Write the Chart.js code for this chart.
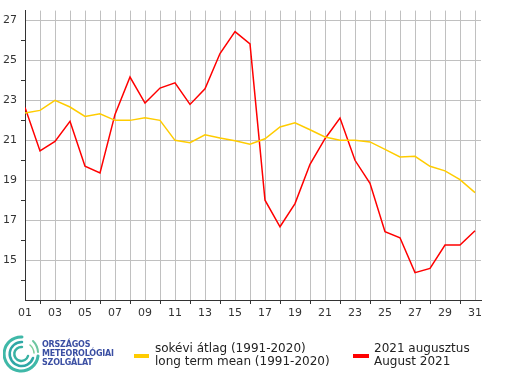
<!DOCTYPE html>
<html>
<head>
<meta charset="utf-8">
<script src="https://cdn.jsdelivr.net/npm/chart.js@4/dist/chart.umd.min.js"></script>
<style>
  html, body { margin: 0; padding: 0; background: #fff; }
  #wrap { position: relative; width: 505px; height: 375px; overflow: hidden; }
  #chart { position: absolute; left: 0; top: 0; }
  .swatch { position: absolute; height: 4px; }
  .ltext { position: absolute; font: 12px "DejaVu Sans", Verdana, sans-serif; line-height: 13px; color: #222; white-space: nowrap; }
  #logo { position: absolute; left: 3px; top: 334px; }
  #logotext { position: absolute; left: 42px; top: 340px; font: bold 8px "DejaVu Sans", sans-serif; line-height: 9px; color: #3b4fa3; letter-spacing: -0.2px; }
</style>
</head>
<body>
<div id="wrap">
  <canvas id="chart" width="505" height="375"></canvas>

  <svg id="logo" width="38" height="40" viewBox="0 0 38 40">
    <g fill="none" stroke-linecap="round">
      <path d="M19 3 A17 17 0 1 0 35 22" stroke="#3fb8a8" stroke-width="3"/>
      <path d="M30 7 A17 17 0 0 1 35 18" stroke="#6cc6a0" stroke-width="2"/>
      <path d="M19 8 A12 12 0 1 0 30 24" stroke="#2fa7a6" stroke-width="2.5"/>
      <path d="M27 11 A12 12 0 0 1 31 19" stroke="#7ccf9b" stroke-width="1.5"/>
      <path d="M19 13 A7 7 0 1 0 25 22" stroke="#38b2a3" stroke-width="2.5"/>
    </g>
  </svg>
  <div id="logotext">ORSZÁGOS<br>METEOROLÓGIAI<br>SZOLGÁLAT</div>

  <div class="swatch" style="left:134px; top:354px; width:15px; background:#ffcc00;"></div>
  <div class="ltext" style="left:155px; top:342px;">sokévi átlag (1991-2020)<br>long term mean (1991-2020)</div>
  <div class="swatch" style="left:353px; top:354px; width:16px; background:#ff0000;"></div>
  <div class="ltext" style="left:374px; top:342px;">2021 augusztus<br>August 2021</div>
</div>

<script>
// days of August
var days = [1, 2, 3, 4, 5, 6, 7, 8, 9, 10, 11, 12, 13, 14, 15, 16,
            17, 18, 19, 20, 21, 22, 23, 24, 25, 26, 27, 28, 29, 30, 31];

// daily mean temperature, August 2021 (°C)
var aug2021 = [22.65, 20.47, 20.95, 21.95, 19.7, 19.37, 22.3, 24.17, 22.87, 23.62,
               23.88, 22.8, 23.58, 25.35, 26.45, 25.83, 18.0, 16.67, 17.83, 19.8,
               21.08, 22.12, 20.0, 18.85, 16.42, 16.12, 14.37, 14.58, 15.75, 15.75, 16.47];

// long term mean 1991-2020 (°C)
var longTermMean = [22.37, 22.5, 23.0, 22.67, 22.2, 22.33, 22.0, 22.0, 22.13, 22.0,
                    21.0, 20.88, 21.28, 21.12, 20.98, 20.8, 21.08, 21.67, 21.88, 21.53,
                    21.17, 21.0, 21.0, 20.92, 20.55, 20.17, 20.2, 19.7, 19.47, 19.03, 18.38];

var yMin = 13, yMax = 27.5;
var xMin = 1, xMax = 31.4;

function pad2(v) {
    return (v < 10 ? '0' : '') + v;
}

function isInt(v) {
    return Math.abs(v - Math.round(v)) < 1e-6;
}

var ctx = document.getElementById('chart').getContext('2d');
var chart = new Chart(ctx, {
    type: 'line',
    data: {
        datasets: [{
            label: 'long term mean (1991-2020)',
            data: days.map(function(d, i) { return { x: d, y: longTermMean[i] }; }),
            borderColor: '#ffcc00',
            borderWidth: 1.5,
            pointRadius: 0,
            tension: 0,
            fill: false
        }, {
            label: 'August 2021',
            data: days.map(function(d, i) { return { x: d, y: aug2021[i] }; }),
            borderColor: '#ff0000',
            borderWidth: 1.5,
            pointRadius: 0,
            tension: 0,
            fill: false
        }]
    },
    options: {
        responsive: false,
        animation: false,
        layout: { padding: { top: 10, right: 24, left: 0, bottom: 0 } },
        plugins: {
            legend: { display: false },
            tooltip: { enabled: false }
        },
        scales: {
            x: {
                type: 'linear',
                min: xMin,
                max: xMax,
                ticks: {
                    stepSize: 1,
                    includeBounds: false,
                    autoSkip: false,
                    maxRotation: 0,
                    padding: 3,
                    color: '#333',
                    font: { family: 'DejaVu Sans', size: 11 },
                    callback: function(v) {
                        return (isInt(v) && v % 2 === 1) ? pad2(v) : '';
                    }
                },
                grid: {
                    tickLength: 4,
                    color: function(c) {
                        var v = c.tick ? c.tick.value : null;
                        return (v !== null && isInt(v) && v > 1) ? '#c0c0c0' : 'rgba(0,0,0,0)';
                    },
                    tickColor: function(c) {
                        var v = c.tick ? c.tick.value : null;
                        return (v !== null && isInt(v) && v % 2 === 0) ? '#333' : 'rgba(0,0,0,0)';
                    }
                },
                border: { color: '#333', width: 1 },
                afterFit: function(scale) { scale.height = 75; }
            },
            y: {
                min: yMin,
                max: yMax,
                ticks: {
                    stepSize: 1,
                    includeBounds: false,
                    autoSkip: false,
                    padding: 4,
                    color: '#333',
                    font: { family: 'DejaVu Sans', size: 11 },
                    callback: function(v) {
                        return (isInt(v) && v % 2 === 1 && v > yMin) ? v : '';
                    }
                },
                grid: {
                    tickLength: 4,
                    color: function(c) {
                        var v = c.tick ? c.tick.value : null;
                        return (v !== null && isInt(v) && v % 2 === 1) ? '#c0c0c0' : 'rgba(0,0,0,0)';
                    },
                    tickColor: function(c) {
                        var v = c.tick ? c.tick.value : null;
                        return (v !== null && isInt(v) && v % 2 === 0 && v > yMin) ? '#333' : 'rgba(0,0,0,0)';
                    }
                },
                border: { color: '#333', width: 1 },
                afterFit: function(scale) { scale.width = 25; }
            }
        }
    }
});
</script>
</body>
</html>
